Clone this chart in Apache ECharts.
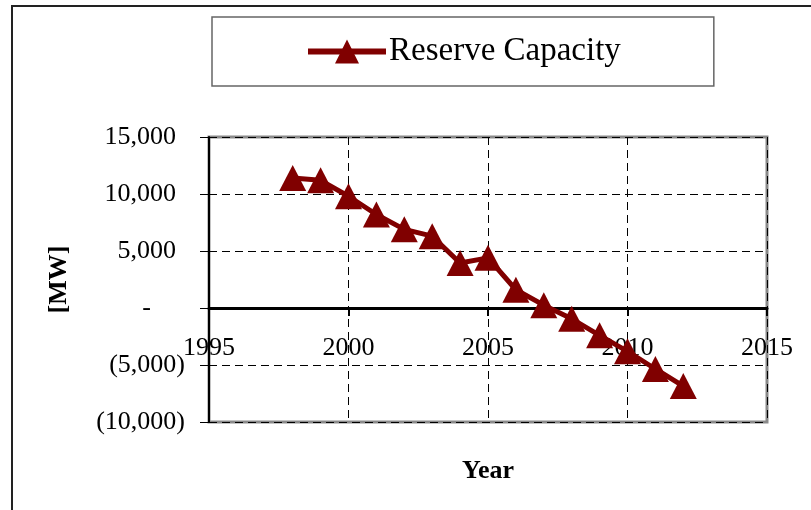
<!DOCTYPE html>
<html>
<head>
<meta charset="utf-8">
<script src="https://cdn.jsdelivr.net/npm/echarts@6/dist/echarts.min.js"></script>
<style>
html,body{margin:0;padding:0;background:#fff;}
#c{width:811px;height:510px;}
</style>
</head>
<body>
<div id="c"></div>
<script>
const years = [1998, 1999, 2000, 2001, 2002, 2003, 2004, 2005, 2006, 2007, 2008, 2009, 2010, 2011, 2012];
const reserveCapacity = [11400, 11200, 9800, 8200, 6900, 6300, 3950, 4400, 1600, 250, -950, -2400, -3800, -5350, -6850];
const seriesName = 'Reserve Capacity';
const xTitle = 'Year';
const yTitle = '[MW]';

const FONT = '"Liberation Serif", "Times New Roman", serif';

function fmtY(v) {
  if (v === 0) return '-{sp0| }';
  const s = Math.abs(v).toLocaleString('en-US');
  if (v < 0) return '(' + s + ')';
  return s + '{sp| }';
}

const chart = echarts.init(document.getElementById('c'));
chart.setOption({
  animation: false,
  backgroundColor: '#fff',
  grid: {
    left: 209, right: 44, top: 137, bottom: 88,
    containLabel: false, outerBoundsMode: 'none',
    show: true, borderColor: '#8a8a8a', borderWidth: 3, backgroundColor: 'transparent'
  },
  legend: {
    left: 212, top: 17,
    width: 504,
    padding: [16, 93, 16, 93],
    backgroundColor: '#fff',
    borderColor: '#666', borderWidth: 1.5,
    itemWidth: 78, itemHeight: 30, itemGap: 0,
    lineStyle: { width: 6 },
    textStyle: { fontFamily: FONT, fontSize: 33, color: '#000', lineHeight: 34, padding: [3,0,0,-2] },
    data: [seriesName]
  },
  xAxis: {
    type: 'value', min: 1995, max: 2015, interval: 5,
    position: 'bottom', offset: -114,
    name: xTitle, nameLocation: 'middle', nameGap: 150,
    nameTextStyle: { fontFamily: FONT, fontSize: 26, fontWeight: 'bold', color: '#000' },
    axisLine: { show: true, onZero: false, lineStyle: { color: '#000', width: 3 } },
    axisTick: { show: true, length: 8, inside: false, lineStyle: { color: '#000', width: 2 } },
    axisLabel: { fontFamily: FONT, fontSize: 26, color: '#000', margin: 27, formatter: v => String(v) },
    splitLine: { show: true, lineStyle: { color: '#000', width: 1, type: [8, 5] } }
  },
  yAxis: {
    type: 'value', min: -10000, max: 15000, interval: 5000,
    name: yTitle, nameLocation: 'middle', nameGap: 137, nameRotate: 90,
    nameTextStyle: { fontFamily: FONT, fontSize: 26, fontWeight: 'bold', color: '#000' },
    axisLine: { show: true, onZero: false, lineStyle: { color: '#000', width: 2 } },
    axisTick: { show: true, length: 9, lineStyle: { color: '#000', width: 1 } },
    axisLabel: {
      fontFamily: FONT, fontSize: 26, color: '#000', margin: 24,
      formatter: fmtY,
      rich: { sp: { width: 9, fontSize: 26 }, sp0: { width: 34, fontSize: 26 } }
    },
    splitLine: { show: true, lineStyle: { color: '#000', width: 1, type: [8, 5] } }
  },
  graphic: [{
    type: 'rect', silent: true, z: 100,
    shape: { x: 12, y: 6, width: 900, height: 600 },
    style: { fill: 'none', stroke: '#222', lineWidth: 2 }
  }],
  series: [{
    name: seriesName,
    type: 'line',
    data: years.map((y, i) => [y, reserveCapacity[i]]),
    color: '#800000',
    lineStyle: { color: '#800000', width: 5 },
    itemStyle: { color: '#800000' },
    symbol: 'triangle',
    symbolSize: [27, 26],
    z: 5
  }]
});
</script>
</body>
</html>
